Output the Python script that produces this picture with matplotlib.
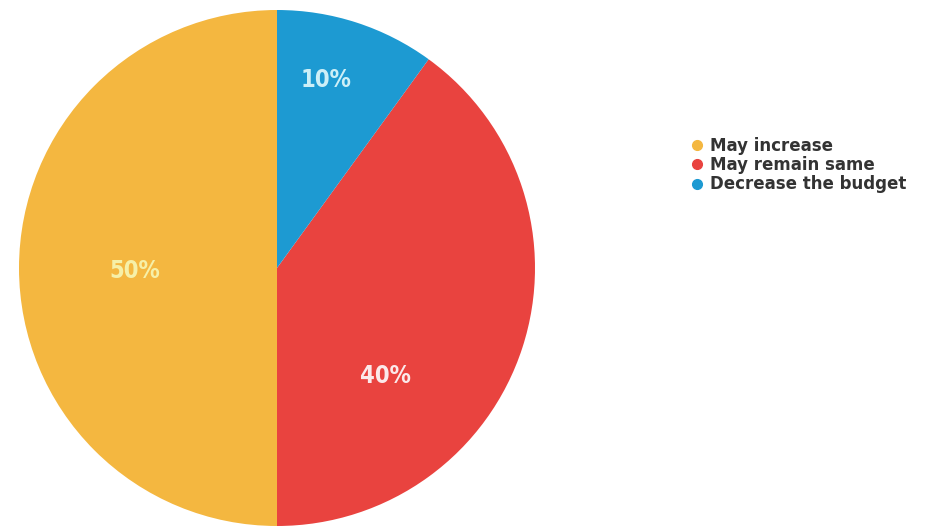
import matplotlib
matplotlib.use("Agg")
import matplotlib.pyplot as plt
from matplotlib.lines import Line2D

categorias = ["May increase", "May remain same", "Decrease the budget"]
valores = [50, 40, 10]
cores = ["#F4B740", "#E9433F", "#1D9AD2"]
cores_pct = ["#F6F0A8", "#FBE9EA", "#CDEFF7"]
# posicoes dos rotulos (coordenadas do grafico, raio = 1)
pos_pct = [(-0.55, -0.01), (0.42, -0.42), (0.19, 0.73)]

fig = plt.figure(figsize=(9.45, 5.28), dpi=100)
ax = fig.add_axes([19 / 945, 2 / 528, 516 / 945, 516 / 528])

wedges, _, autotexts = ax.pie(valores, colors=cores, startangle=90, counterclock=True,
                              autopct="%d%%", radius=1,
                              wedgeprops=dict(linewidth=0))
ax.set_xlim(-1, 1)
ax.set_ylim(-1, 1)
ax.set_aspect("equal")

for t, c, p in zip(autotexts, cores_pct, pos_pct):
    t.set_position(p)
    t.set_color(c)
    t.set_fontsize(17)
    t.set_fontweight("bold")
    t.set_fontstretch("condensed")
    t.set_family(["DejaVu Sans"])
    t.set_ha("center")
    t.set_va("center")

handles = [Line2D([], [], marker="o", linestyle="", markersize=7,
                  markerfacecolor=c, markeredgecolor=c) for c in cores]
leg = fig.legend(handles, categorias, loc="upper left",
                 bbox_to_anchor=(677 / 945, 1 - 125 / 528),
                 frameon=False, handletextpad=0.25, labelspacing=0.08,
                 handlelength=1.0, borderpad=0.2,
                 prop={"family": "DejaVu Sans", "size": 12, "weight": "bold"})
for t in leg.get_texts():
    t.set_color("#333333")

fig.savefig("out.png", dpi=100, facecolor="white")
